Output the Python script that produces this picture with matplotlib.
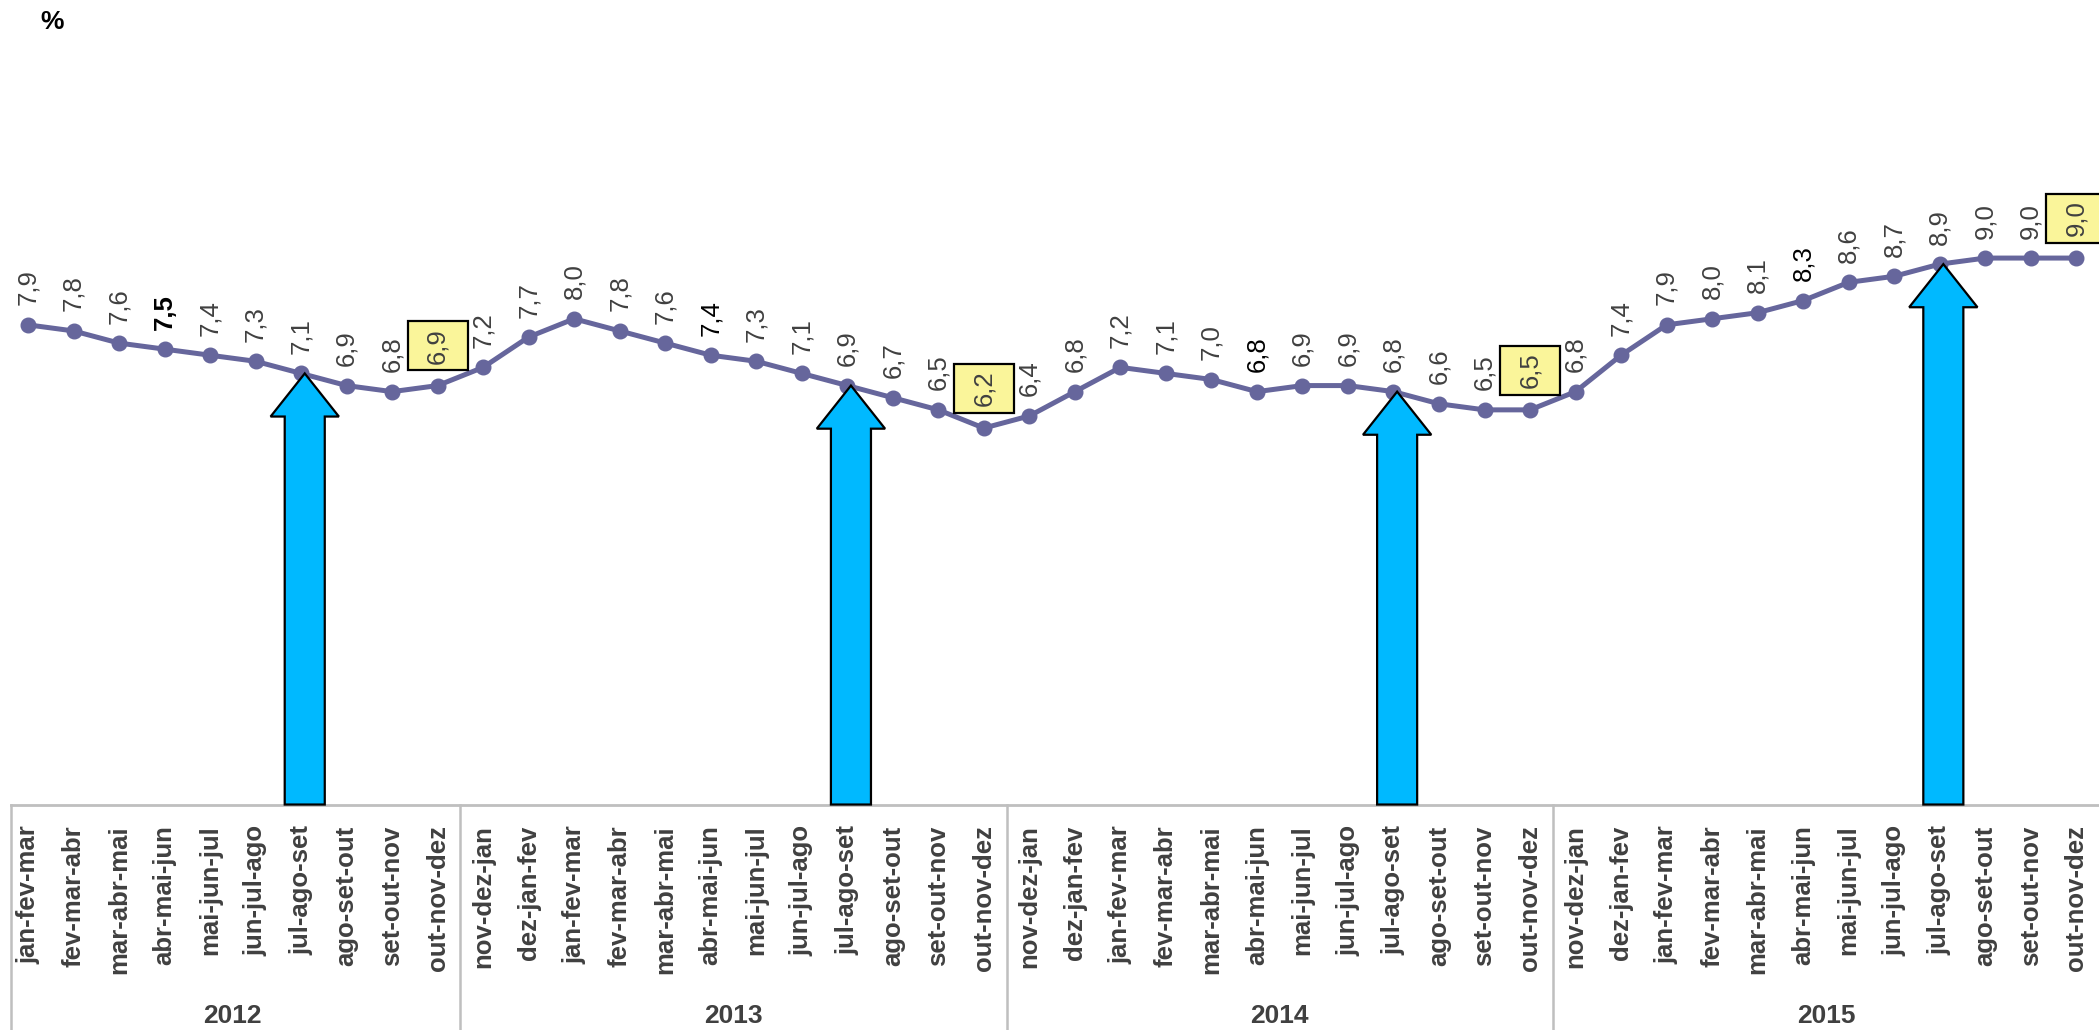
import matplotlib.pyplot as plt
from matplotlib.patches import FancyArrow, Rectangle
from matplotlib import transforms

plt.rcParams['font.family'] = ['Liberation Sans', 'DejaVu Sans']

# dados: taxa de desocupacao (%) por trimestre movel
anos = ['2012', '2013', '2014', '2015']

trim_2012 = ['jan-fev-mar', 'fev-mar-abr', 'mar-abr-mai', 'abr-mai-jun', 'mai-jun-jul',
             'jun-jul-ago', 'jul-ago-set', 'ago-set-out', 'set-out-nov', 'out-nov-dez']
trim_ano = ['nov-dez-jan', 'dez-jan-fev', 'jan-fev-mar', 'fev-mar-abr', 'mar-abr-mai',
            'abr-mai-jun', 'mai-jun-jul', 'jun-jul-ago', 'jul-ago-set', 'ago-set-out',
            'set-out-nov', 'out-nov-dez']

taxa_2012 = [7.9, 7.8, 7.6, 7.5, 7.4, 7.3, 7.1, 6.9, 6.8, 6.9]
taxa_2013 = [7.2, 7.7, 8.0, 7.8, 7.6, 7.4, 7.3, 7.1, 6.9, 6.7, 6.5, 6.2]
taxa_2014 = [6.4, 6.8, 7.2, 7.1, 7.0, 6.8, 6.9, 6.9, 6.8, 6.6, 6.5, 6.5]
taxa_2015 = [6.8, 7.4, 7.9, 8.0, 8.1, 8.3, 8.6, 8.7, 8.9, 9.0, 9.0, 9.0]

grupos = [trim_2012, trim_ano, trim_ano, trim_ano]
series = [taxa_2012, taxa_2013, taxa_2014, taxa_2015]

rotulos = []
valores = []
for g, s in zip(grupos, series):
    rotulos += g
    valores += s

x = list(range(len(valores)))

cor_linha = '#66669C'
cor_texto = '#404040'
cor_grade = '#BFBFBF'

fig = plt.figure(figsize=(20.99, 10.30), dpi=100)
ax = fig.add_axes([0.0051, 0.2189, 0.9949, 0.76])

ax.plot(x, valores, color=cor_linha, lw=3.6, marker='o', ms=10.5, zorder=3)

ax.set_xlim(-0.38, len(valores) - 0.5)
ax.set_ylim(0, 0.76 / 0.05895)

# rotulos de dados
i = 0
for g, s in zip(grupos, series):
    for k, v in enumerate(s):
        txt = ('%.1f' % v).replace('.', ',')
        cor = cor_texto
        peso = 'normal'
        if g[k] == 'abr-mai-jun':
            cor = 'black'
            if i < 10:
                peso = 'bold'
        if k == len(s) - 1:
            # caixa amarela no ultimo trimestre do ano
            caixa = Rectangle((x[i] - 0.66, v + 0.25), 1.32, 0.81, fc='#FAF59A', ec='black',
                              lw=1.6, zorder=6, clip_on=False)
            ax.add_patch(caixa)
            ax.text(x[i], v + 0.25 + 0.405, txt, rotation=90, ha='center', va='center',
                    fontsize=18.5, color=cor_texto, zorder=7, clip_on=False)
        else:
            ax.annotate(txt, (x[i], v), xytext=(0, 14), textcoords='offset points',
                        rotation=90, ha='center', va='bottom', fontsize=18.5, color=cor,
                        fontweight=peso, zorder=6)
        i += 1

# setas nos trimestres jul-ago-set
for i, r in enumerate(rotulos):
    if r == 'jul-ago-set':
        seta = FancyArrow(x[i] + 0.08, 0, 0, valores[i], width=0.88, head_width=1.5,
                          head_length=0.71, length_includes_head=True,
                          fc='#00B9FF', ec='black', lw=1.6, zorder=5, clip_on=False)
        ax.add_patch(seta)

# eixo de categorias
ax.set_xticks(x)
ax.set_xticklabels(rotulos, rotation=90, fontsize=18.5, fontweight='bold', color=cor_texto,
                   va='top', ha='center')
ax.tick_params(axis='x', length=0, pad=15)
ax.set_yticks([])
for lado in ['left', 'right', 'top']:
    ax.spines[lado].set_visible(False)
ax.spines['bottom'].set_color(cor_grade)
ax.spines['bottom'].set_linewidth(2)

trans = ax.get_xaxis_transform()
limites = [-0.38]
ini = 0
centros = []
for g in grupos:
    centros.append(ini + (len(g) - 1) / 2)
    ini += len(g)
    limites.append(ini - 0.5)
for b in limites[:-1]:
    ax.plot([b, b], [0, -0.3], color=cor_grade, lw=1.8, transform=trans, clip_on=False)

trans_ano = transforms.blended_transform_factory(ax.transData, fig.transFigure)
for c, a in zip(centros, anos):
    ax.text(c, 0.0136, a, transform=trans_ano, ha='center', va='center',
            fontsize=19, fontweight='bold', color=cor_texto)

fig.text(0.0248, 0.9786, '%', ha='center', va='center', fontsize=19, fontweight='bold')

fig.savefig('out.png', dpi=100)
